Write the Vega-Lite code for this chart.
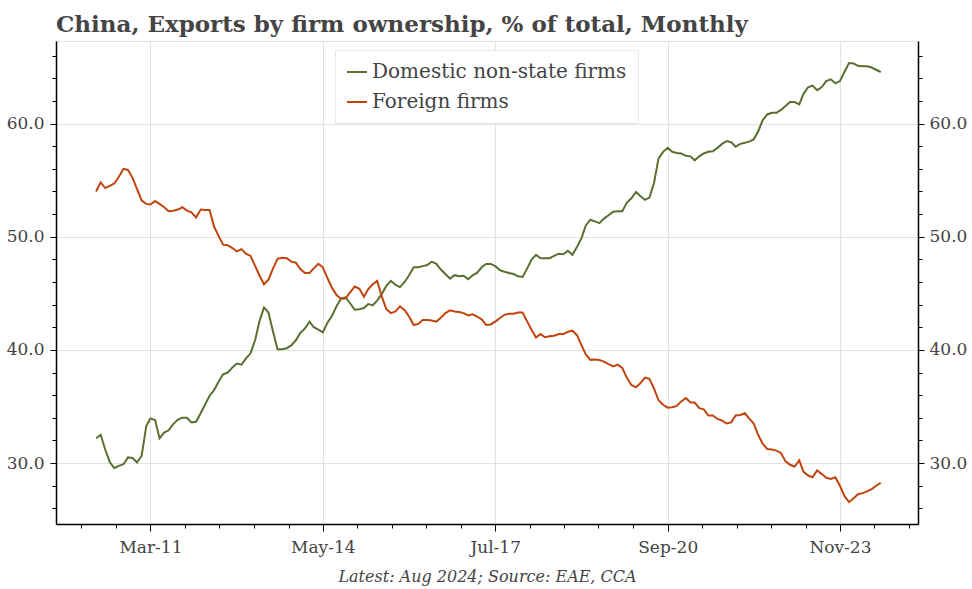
{
  "$schema": "https://vega.github.io/schema/vega-lite/v6.json",
  "width": 862,
  "height": 483,
  "autosize": {"type": "none"},
  "padding": {"left": 56, "top": 41, "right": 54, "bottom": 65},
  "background": "white",
  "title": {
    "text": "China, Exports by firm ownership, % of total, Monthly",
    "anchor": "start",
    "frame": "group",
    "font": "DejaVu Serif",
    "fontSize": 23,
    "fontWeight": "bold",
    "color": "#444444",
    "offset": 4
  },
  "config": {
    "view": {"stroke": "#e2e2e2"},
    "axis": {
      "labelFont": "DejaVu Serif",
      "labelFontSize": 17,
      "labelColor": "#444444",
      "domainColor": "#000000",
      "domainWidth": 1.5,
      "tickColor": "#000000",
      "tickWidth": 1,
      "gridColor": "#e2e2e2",
      "gridWidth": 1,
      "labelOverlap": false
    }
  },
  "data": {
    "values": [
      {"month": "2010-03-01", "domestic": 32.2, "foreign": 54.0},
      {"month": "2010-04-01", "domestic": 32.5, "foreign": 54.8},
      {"month": "2010-05-01", "domestic": 31.2, "foreign": 54.3},
      {"month": "2010-06-01", "domestic": 30.1, "foreign": 54.5},
      {"month": "2010-07-01", "domestic": 29.55, "foreign": 54.7},
      {"month": "2010-08-01", "domestic": 29.75, "foreign": 55.3},
      {"month": "2010-09-01", "domestic": 29.9, "foreign": 56.0},
      {"month": "2010-10-01", "domestic": 30.5, "foreign": 55.9},
      {"month": "2010-11-01", "domestic": 30.45, "foreign": 55.2},
      {"month": "2010-12-01", "domestic": 30.05, "foreign": 54.2},
      {"month": "2011-01-01", "domestic": 30.65, "foreign": 53.2},
      {"month": "2011-02-01", "domestic": 33.3, "foreign": 52.9},
      {"month": "2011-03-01", "domestic": 33.95, "foreign": 52.85},
      {"month": "2011-04-01", "domestic": 33.8, "foreign": 53.15},
      {"month": "2011-05-01", "domestic": 32.2, "foreign": 52.9},
      {"month": "2011-06-01", "domestic": 32.7, "foreign": 52.6},
      {"month": "2011-07-01", "domestic": 32.9, "foreign": 52.25},
      {"month": "2011-08-01", "domestic": 33.45, "foreign": 52.3},
      {"month": "2011-09-01", "domestic": 33.85, "foreign": 52.4},
      {"month": "2011-10-01", "domestic": 34.0, "foreign": 52.6},
      {"month": "2011-11-01", "domestic": 34.0, "foreign": 52.3},
      {"month": "2011-12-01", "domestic": 33.6, "foreign": 52.15},
      {"month": "2012-01-01", "domestic": 33.65, "foreign": 51.7},
      {"month": "2012-02-01", "domestic": 34.4, "foreign": 52.4},
      {"month": "2012-03-01", "domestic": 35.15, "foreign": 52.35},
      {"month": "2012-04-01", "domestic": 35.95, "foreign": 52.35},
      {"month": "2012-05-01", "domestic": 36.45, "foreign": 50.9},
      {"month": "2012-06-01", "domestic": 37.2, "foreign": 50.05},
      {"month": "2012-07-01", "domestic": 37.85, "foreign": 49.3},
      {"month": "2012-08-01", "domestic": 38.0, "foreign": 49.25},
      {"month": "2012-09-01", "domestic": 38.45, "foreign": 49.0},
      {"month": "2012-10-01", "domestic": 38.8, "foreign": 48.7},
      {"month": "2012-11-01", "domestic": 38.7, "foreign": 48.9},
      {"month": "2012-12-01", "domestic": 39.25, "foreign": 48.5},
      {"month": "2013-01-01", "domestic": 39.7, "foreign": 48.3},
      {"month": "2013-02-01", "domestic": 40.9, "foreign": 47.4},
      {"month": "2013-03-01", "domestic": 42.5, "foreign": 46.6},
      {"month": "2013-04-01", "domestic": 43.75, "foreign": 45.8},
      {"month": "2013-05-01", "domestic": 43.3, "foreign": 46.2},
      {"month": "2013-06-01", "domestic": 41.6, "foreign": 47.2},
      {"month": "2013-07-01", "domestic": 40.05, "foreign": 48.05},
      {"month": "2013-08-01", "domestic": 40.05, "foreign": 48.15},
      {"month": "2013-09-01", "domestic": 40.15, "foreign": 48.1},
      {"month": "2013-10-01", "domestic": 40.4, "foreign": 47.8},
      {"month": "2013-11-01", "domestic": 40.85, "foreign": 47.7},
      {"month": "2013-12-01", "domestic": 41.5, "foreign": 47.15},
      {"month": "2014-01-01", "domestic": 41.9, "foreign": 46.8},
      {"month": "2014-02-01", "domestic": 42.5, "foreign": 46.8},
      {"month": "2014-03-01", "domestic": 42.0, "foreign": 47.2},
      {"month": "2014-04-01", "domestic": 41.8, "foreign": 47.6},
      {"month": "2014-05-01", "domestic": 41.55, "foreign": 47.3},
      {"month": "2014-06-01", "domestic": 42.4, "foreign": 46.35},
      {"month": "2014-07-01", "domestic": 43.0, "foreign": 45.5},
      {"month": "2014-08-01", "domestic": 43.85, "foreign": 44.85},
      {"month": "2014-09-01", "domestic": 44.55, "foreign": 44.5},
      {"month": "2014-10-01", "domestic": 44.65, "foreign": 44.55},
      {"month": "2014-11-01", "domestic": 44.1, "foreign": 45.1},
      {"month": "2014-12-01", "domestic": 43.55, "foreign": 45.6},
      {"month": "2015-01-01", "domestic": 43.6, "foreign": 45.4},
      {"month": "2015-02-01", "domestic": 43.7, "foreign": 44.7},
      {"month": "2015-03-01", "domestic": 44.05, "foreign": 45.35},
      {"month": "2015-04-01", "domestic": 43.95, "foreign": 45.8},
      {"month": "2015-05-01", "domestic": 44.35, "foreign": 46.1},
      {"month": "2015-06-01", "domestic": 44.95, "foreign": 44.7},
      {"month": "2015-07-01", "domestic": 45.65, "foreign": 43.6},
      {"month": "2015-08-01", "domestic": 46.1, "foreign": 43.25},
      {"month": "2015-09-01", "domestic": 45.75, "foreign": 43.4},
      {"month": "2015-10-01", "domestic": 45.55, "foreign": 43.85},
      {"month": "2015-11-01", "domestic": 46.0, "foreign": 43.5},
      {"month": "2015-12-01", "domestic": 46.6, "foreign": 42.95},
      {"month": "2016-01-01", "domestic": 47.3, "foreign": 42.2},
      {"month": "2016-02-01", "domestic": 47.3, "foreign": 42.3},
      {"month": "2016-03-01", "domestic": 47.4, "foreign": 42.65},
      {"month": "2016-04-01", "domestic": 47.5, "foreign": 42.65},
      {"month": "2016-05-01", "domestic": 47.8, "foreign": 42.6},
      {"month": "2016-06-01", "domestic": 47.6, "foreign": 42.5},
      {"month": "2016-07-01", "domestic": 47.1, "foreign": 42.85},
      {"month": "2016-08-01", "domestic": 46.7, "foreign": 43.25},
      {"month": "2016-09-01", "domestic": 46.3, "foreign": 43.5},
      {"month": "2016-10-01", "domestic": 46.6, "foreign": 43.4},
      {"month": "2016-11-01", "domestic": 46.5, "foreign": 43.35},
      {"month": "2016-12-01", "domestic": 46.55, "foreign": 43.25},
      {"month": "2017-01-01", "domestic": 46.25, "foreign": 43.05},
      {"month": "2017-02-01", "domestic": 46.6, "foreign": 43.15},
      {"month": "2017-03-01", "domestic": 46.8, "foreign": 42.95},
      {"month": "2017-04-01", "domestic": 47.3, "foreign": 42.7},
      {"month": "2017-05-01", "domestic": 47.6, "foreign": 42.2},
      {"month": "2017-06-01", "domestic": 47.6, "foreign": 42.25},
      {"month": "2017-07-01", "domestic": 47.4, "foreign": 42.5},
      {"month": "2017-08-01", "domestic": 47.05, "foreign": 42.8},
      {"month": "2017-09-01", "domestic": 46.9, "foreign": 43.1},
      {"month": "2017-10-01", "domestic": 46.8, "foreign": 43.2},
      {"month": "2017-11-01", "domestic": 46.7, "foreign": 43.2},
      {"month": "2017-12-01", "domestic": 46.5, "foreign": 43.3},
      {"month": "2018-01-01", "domestic": 46.45, "foreign": 43.3},
      {"month": "2018-02-01", "domestic": 47.2, "foreign": 42.5},
      {"month": "2018-03-01", "domestic": 47.95, "foreign": 41.8},
      {"month": "2018-04-01", "domestic": 48.4, "foreign": 41.1},
      {"month": "2018-05-01", "domestic": 48.1, "foreign": 41.4},
      {"month": "2018-06-01", "domestic": 48.1, "foreign": 41.12},
      {"month": "2018-07-01", "domestic": 48.1, "foreign": 41.2},
      {"month": "2018-08-01", "domestic": 48.3, "foreign": 41.25},
      {"month": "2018-09-01", "domestic": 48.5, "foreign": 41.4},
      {"month": "2018-10-01", "domestic": 48.45, "foreign": 41.4},
      {"month": "2018-11-01", "domestic": 48.75, "foreign": 41.6},
      {"month": "2018-12-01", "domestic": 48.4, "foreign": 41.7},
      {"month": "2019-01-01", "domestic": 49.1, "foreign": 41.3},
      {"month": "2019-02-01", "domestic": 49.9, "foreign": 40.4},
      {"month": "2019-03-01", "domestic": 51.0, "foreign": 39.6},
      {"month": "2019-04-01", "domestic": 51.5, "foreign": 39.12},
      {"month": "2019-05-01", "domestic": 51.35, "foreign": 39.15},
      {"month": "2019-06-01", "domestic": 51.2, "foreign": 39.1},
      {"month": "2019-07-01", "domestic": 51.6, "foreign": 38.97},
      {"month": "2019-08-01", "domestic": 51.9, "foreign": 38.75},
      {"month": "2019-09-01", "domestic": 52.2, "foreign": 38.55},
      {"month": "2019-10-01", "domestic": 52.25, "foreign": 38.7},
      {"month": "2019-11-01", "domestic": 52.25, "foreign": 38.4},
      {"month": "2019-12-01", "domestic": 53.0, "foreign": 37.55},
      {"month": "2020-01-01", "domestic": 53.4, "foreign": 36.9},
      {"month": "2020-02-01", "domestic": 53.95, "foreign": 36.7},
      {"month": "2020-03-01", "domestic": 53.6, "foreign": 37.05},
      {"month": "2020-04-01", "domestic": 53.25, "foreign": 37.55},
      {"month": "2020-05-01", "domestic": 53.45, "foreign": 37.45},
      {"month": "2020-06-01", "domestic": 54.75, "foreign": 36.6},
      {"month": "2020-07-01", "domestic": 56.9, "foreign": 35.55},
      {"month": "2020-08-01", "domestic": 57.5, "foreign": 35.15},
      {"month": "2020-09-01", "domestic": 57.85, "foreign": 34.9},
      {"month": "2020-10-01", "domestic": 57.5, "foreign": 34.93},
      {"month": "2020-11-01", "domestic": 57.4, "foreign": 35.05},
      {"month": "2020-12-01", "domestic": 57.35, "foreign": 35.45},
      {"month": "2021-01-01", "domestic": 57.15, "foreign": 35.75},
      {"month": "2021-02-01", "domestic": 57.1, "foreign": 35.35},
      {"month": "2021-03-01", "domestic": 56.75, "foreign": 35.35},
      {"month": "2021-04-01", "domestic": 57.1, "foreign": 34.85},
      {"month": "2021-05-01", "domestic": 57.35, "foreign": 34.75},
      {"month": "2021-06-01", "domestic": 57.5, "foreign": 34.2},
      {"month": "2021-07-01", "domestic": 57.55, "foreign": 34.2},
      {"month": "2021-08-01", "domestic": 57.85, "foreign": 33.9},
      {"month": "2021-09-01", "domestic": 58.2, "foreign": 33.75},
      {"month": "2021-10-01", "domestic": 58.45, "foreign": 33.5},
      {"month": "2021-11-01", "domestic": 58.35, "foreign": 33.6},
      {"month": "2021-12-01", "domestic": 57.95, "foreign": 34.2},
      {"month": "2022-01-01", "domestic": 58.2, "foreign": 34.25},
      {"month": "2022-02-01", "domestic": 58.3, "foreign": 34.4},
      {"month": "2022-03-01", "domestic": 58.4, "foreign": 33.95},
      {"month": "2022-04-01", "domestic": 58.6, "foreign": 33.5},
      {"month": "2022-05-01", "domestic": 59.3, "foreign": 32.5},
      {"month": "2022-06-01", "domestic": 60.3, "foreign": 31.7},
      {"month": "2022-07-01", "domestic": 60.8, "foreign": 31.25},
      {"month": "2022-08-01", "domestic": 60.95, "foreign": 31.2},
      {"month": "2022-09-01", "domestic": 60.95, "foreign": 31.1},
      {"month": "2022-10-01", "domestic": 61.2, "foreign": 30.9},
      {"month": "2022-11-01", "domestic": 61.55, "foreign": 30.15},
      {"month": "2022-12-01", "domestic": 61.9, "foreign": 29.85},
      {"month": "2023-01-01", "domestic": 61.9, "foreign": 29.7},
      {"month": "2023-02-01", "domestic": 61.7, "foreign": 30.25},
      {"month": "2023-03-01", "domestic": 62.6, "foreign": 29.25},
      {"month": "2023-04-01", "domestic": 63.2, "foreign": 28.9},
      {"month": "2023-05-01", "domestic": 63.35, "foreign": 28.75},
      {"month": "2023-06-01", "domestic": 62.95, "foreign": 29.35},
      {"month": "2023-07-01", "domestic": 63.2, "foreign": 29.05},
      {"month": "2023-08-01", "domestic": 63.75, "foreign": 28.7},
      {"month": "2023-09-01", "domestic": 63.9, "foreign": 28.6},
      {"month": "2023-10-01", "domestic": 63.55, "foreign": 28.75},
      {"month": "2023-11-01", "domestic": 63.75, "foreign": 28.0},
      {"month": "2023-12-01", "domestic": 64.55, "foreign": 27.1},
      {"month": "2024-01-01", "domestic": 65.35, "foreign": 26.55},
      {"month": "2024-02-01", "domestic": 65.3, "foreign": 26.9},
      {"month": "2024-03-01", "domestic": 65.1, "foreign": 27.25},
      {"month": "2024-04-01", "domestic": 65.05, "foreign": 27.35},
      {"month": "2024-05-01", "domestic": 65.05, "foreign": 27.5},
      {"month": "2024-06-01", "domestic": 64.95, "foreign": 27.7},
      {"month": "2024-07-01", "domestic": 64.75, "foreign": 28.0},
      {"month": "2024-08-01", "domestic": 64.55, "foreign": 28.25}
    ]
  },
  "transform": [
    {"fold": ["domestic", "foreign"], "as": ["series", "value"]}
  ],
  "encoding": {
    "x": {
      "field": "month",
      "type": "temporal",
      "scale": {
        "type": "utc",
        "domain": [
          {"year": 2009, "month": 6, "date": 5, "utc": true},
          {"year": 2025, "month": 4, "date": 8, "utc": true}
        ],
        "nice": false
      },
      "axis": {
        "values": [
          {"year": 2009, "month": 11, "date": 22, "utc": true},
          {"year": 2010, "month": 7, "date": 13, "utc": true},
          {"year": 2011, "month": 3, "date": 1, "utc": true},
          {"year": 2011, "month": 10, "date": 18, "utc": true},
          {"year": 2012, "month": 6, "date": 6, "utc": true},
          {"year": 2013, "month": 1, "date": 24, "utc": true},
          {"year": 2013, "month": 9, "date": 13, "utc": true},
          {"year": 2014, "month": 5, "date": 1, "utc": true},
          {"year": 2014, "month": 12, "date": 18, "utc": true},
          {"year": 2015, "month": 8, "date": 6, "utc": true},
          {"year": 2016, "month": 3, "date": 25, "utc": true},
          {"year": 2016, "month": 11, "date": 12, "utc": true},
          {"year": 2017, "month": 7, "date": 1, "utc": true},
          {"year": 2018, "month": 2, "date": 17, "utc": true},
          {"year": 2018, "month": 10, "date": 6, "utc": true},
          {"year": 2019, "month": 5, "date": 25, "utc": true},
          {"year": 2020, "month": 1, "date": 12, "utc": true},
          {"year": 2020, "month": 9, "date": 1, "utc": true},
          {"year": 2021, "month": 4, "date": 20, "utc": true},
          {"year": 2021, "month": 12, "date": 7, "utc": true},
          {"year": 2022, "month": 7, "date": 27, "utc": true},
          {"year": 2023, "month": 3, "date": 15, "utc": true},
          {"year": 2023, "month": 11, "date": 1, "utc": true},
          {"year": 2024, "month": 6, "date": 19, "utc": true},
          {"year": 2025, "month": 2, "date": 5, "utc": true}
        ],
        "labelExpr": "utcdate(datum.value) == 1 ? utcFormat(datum.value, '%b-%y') : ''",
        "tickSize": {"condition": {"test": "utcdate(datum.value) == 1", "value": 7}, "value": 4},
        "grid": true,
        "gridOpacity": {"condition": {"test": "utcdate(datum.value) == 1", "value": 1}, "value": 0},
        "labelPadding": 8,
        "title": "Latest: Aug 2024; Source: EAE, CCA",
        "titleFont": "DejaVu Serif",
        "titleFontSize": 16,
        "titleFontStyle": "italic",
        "titleFontWeight": "normal",
        "titleColor": "#444444",
        "titlePadding": 13
      }
    }
  },
  "layer": [
    {
      "mark": {"type": "line", "strokeWidth": 2},
      "encoding": {
        "y": {
          "field": "value",
          "type": "quantitative",
          "scale": {"domain": [24.62, 67.29], "nice": false, "zero": false},
          "axis": {
            "orient": "left",
            "values": [26, 28, 30, 32, 34, 36, 38, 40, 42, 44, 46, 48, 50, 52, 54, 56, 58, 60, 62, 64, 66],
            "labelExpr": "datum.value % 10 == 0 ? format(datum.value, '.1f') : ''",
            "tickSize": {"condition": {"test": "datum.value % 10 == 0", "value": 6}, "value": 4},
            "grid": true,
            "gridOpacity": {"condition": {"test": "datum.value % 10 == 0", "value": 1}, "value": 0},
            "labelPadding": 6,
            "title": null
          }
        },
        "color": {
          "field": "series",
          "type": "nominal",
          "scale": {"domain": ["domestic", "foreign"], "range": ["#5b6f31", "#c1440e"]},
          "legend": {
            "orient": "none",
            "legendX": 279,
            "legendY": 9,
            "title": null,
            "labelExpr": "datum.value == 'domestic' ? 'Domestic non-state firms' : 'Foreign firms'",
            "labelFont": "DejaVu Serif",
            "labelFontSize": 20,
            "labelColor": "#444444",
            "labelLimit": 400,
            "symbolType": "stroke",
            "symbolSize": 400,
            "symbolStrokeWidth": 2,
            "fillColor": "white",
            "strokeColor": "#e8e8e8",
            "padding": 11,
            "rowPadding": 9
          }
        }
      }
    },
    {
      "mark": {"type": "line", "opacity": 0},
      "encoding": {
        "y": {
          "field": "value",
          "type": "quantitative",
          "axis": {
            "orient": "right",
            "values": [26, 28, 30, 32, 34, 36, 38, 40, 42, 44, 46, 48, 50, 52, 54, 56, 58, 60, 62, 64, 66],
            "labelExpr": "datum.value % 10 == 0 ? format(datum.value, '.1f') : ''",
            "tickSize": {"condition": {"test": "datum.value % 10 == 0", "value": 6}, "value": 4},
            "grid": false,
            "labelPadding": 5,
            "title": null
          }
        },
        "detail": {"field": "series"}
      }
    }
  ],
  "resolve": {"axis": {"y": "independent"}}
}
